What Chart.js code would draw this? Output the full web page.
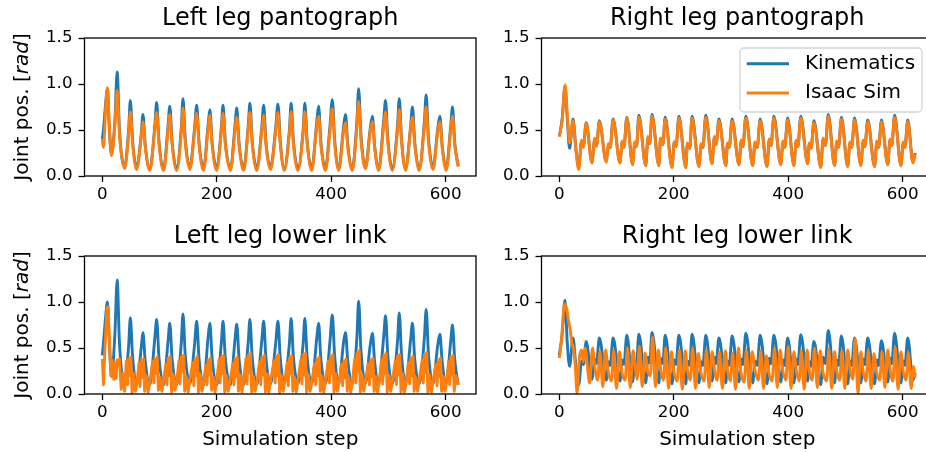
<!DOCTYPE html>
<html>
<head>
<meta charset="utf-8">
<script src="https://cdn.jsdelivr.net/npm/chart.js@4.4.1/dist/chart.umd.min.js"></script>
<style>
  html, body { margin: 0; padding: 0; background: #fff; overflow: hidden; }
  #fig { position: relative; width: 926px; height: 452px; overflow: hidden; background: #fff; }
  #fig canvas { position: absolute; }
</style>
</head>
<body>
<div id="fig">
  <canvas id="tl" width="500" height="215" style="left:0;top:0"></canvas>
  <canvas id="tr" width="500" height="215" style="left:457px;top:0"></canvas>
  <canvas id="bl" width="500" height="234" style="left:0;top:218px"></canvas>
  <canvas id="br" width="500" height="234" style="left:457px;top:218px"></canvas>
</div>
<script>
// ---- data -------------------------------------------------------------
const xTicks = [0, 200, 400, 600];
const yTicks = [0, 0.5, 1.0, 1.5];

// left leg: shared step grid for both pantograph series and the lower-link kinematics
const stepsTL = [0, 2, 6, 9, 12, 16,
  22, 26, 30, 39, 46, 49, 53, 60, 68, 71, 75, 83, 92, 95, 99, 107,
  115, 118, 122, 130, 138, 141, 145, 153, 161, 165, 169, 177, 185, 188, 192, 200,
  208, 211, 215, 224, 232, 235, 239, 247, 255, 258, 262, 270, 279, 282, 286, 294,
  303, 307, 311, 318, 327, 330, 334, 342, 351, 354, 358, 366, 375, 378, 382, 390,
  398, 402, 406, 413, 422, 425, 429, 437, 445, 448, 452, 460, 468, 472, 476, 483,
  492, 495, 499, 507, 516, 519, 523, 530, 539, 542, 546, 554, 563, 566, 570, 578,
  586, 590, 594, 601, 609, 612, 616, 622];

const kinTL = [0.40, 0.50, 0.80, 0.95, 0.55, 0.24,
  0.60, 1.13, 0.50, 0.10,  0.50, 0.82, 0.38, 0.09,  0.45, 0.67, 0.34, 0.07,
  0.56, 0.80, 0.38, 0.07,  0.55, 0.76, 0.37, 0.08,  0.52, 0.84, 0.40, 0.09,
  0.50, 0.77, 0.37, 0.08,  0.56, 0.72, 0.36, 0.08,  0.52, 0.77, 0.37, 0.08,
  0.55, 0.74, 0.36, 0.08,  0.54, 0.79, 0.38, 0.08,  0.55, 0.77, 0.37, 0.09,
  0.52, 0.78, 0.38, 0.08,  0.50, 0.79, 0.38, 0.08,  0.50, 0.79, 0.38, 0.08,
  0.60, 0.76, 0.37, 0.08,  0.55, 0.83, 0.40, 0.08,  0.55, 0.67, 0.34, 0.08,
  0.60, 0.95, 0.45, 0.10,  0.50, 0.65, 0.33, 0.08,  0.62, 0.82, 0.40, 0.08,
  0.55, 0.84, 0.40, 0.08,  0.55, 0.75, 0.37, 0.08,  0.60, 0.88, 0.42, 0.09,
  0.50, 0.65, 0.34, 0.08,  0.55, 0.75, 0.36, 0.11];

const simTL = [0.40, 0.31, 0.75, 0.96, 0.58, 0.22,
  0.55, 0.93, 0.45, 0.08,  0.45, 0.70, 0.35, 0.07,  0.42, 0.59, 0.32, 0.06,
  0.52, 0.69, 0.35, 0.06,  0.50, 0.67, 0.34, 0.06,  0.46, 0.74, 0.36, 0.07,
  0.46, 0.68, 0.34, 0.06,  0.52, 0.66, 0.33, 0.06,  0.48, 0.68, 0.34, 0.06,
  0.50, 0.64, 0.33, 0.06,  0.50, 0.69, 0.35, 0.06,  0.50, 0.66, 0.34, 0.07,
  0.48, 0.69, 0.35, 0.06,  0.46, 0.70, 0.35, 0.06,  0.46, 0.70, 0.35, 0.06,
  0.55, 0.65, 0.34, 0.06,  0.50, 0.73, 0.36, 0.06,  0.50, 0.58, 0.31, 0.06,
  0.55, 0.81, 0.40, 0.08,  0.47, 0.59, 0.30, 0.06,  0.56, 0.70, 0.36, 0.06,
  0.50, 0.72, 0.37, 0.06,  0.52, 0.64, 0.34, 0.06,  0.55, 0.75, 0.38, 0.07,
  0.47, 0.59, 0.31, 0.06,  0.50, 0.65, 0.33, 0.10];

const kinBL = [0.42, 0.55, 0.85, 1.00, 0.60, 0.19,
  0.65, 1.24, 0.55, 0.12,  0.52, 0.83, 0.40, 0.10,  0.50, 0.67, 0.36, 0.10,
  0.62, 0.81, 0.40, 0.10,  0.58, 0.77, 0.38, 0.10,  0.55, 0.87, 0.42, 0.11,
  0.52, 0.79, 0.39, 0.10,  0.62, 0.77, 0.38, 0.10,  0.55, 0.79, 0.39, 0.10,
  0.60, 0.76, 0.38, 0.10,  0.56, 0.81, 0.40, 0.10,  0.60, 0.79, 0.39, 0.11,
  0.55, 0.79, 0.39, 0.11,  0.55, 0.82, 0.40, 0.11,  0.55, 0.82, 0.40, 0.11,
  0.62, 0.77, 0.38, 0.11,  0.58, 0.86, 0.42, 0.11,  0.58, 0.67, 0.36, 0.11,
  0.62, 1.01, 0.48, 0.12,  0.52, 0.66, 0.35, 0.11,  0.64, 0.85, 0.42, 0.11,
  0.58, 0.88, 0.42, 0.11,  0.60, 0.77, 0.38, 0.11,  0.62, 0.92, 0.44, 0.11,
  0.52, 0.65, 0.35, 0.11,  0.58, 0.75, 0.37, 0.10];

// left lower link, simulated: jittery trace on its own steps
const stepsBLSim = [0, 2, 5, 8, 10, 13, 15, 17, 20,
  22, 24, 26, 28, 30, 33, 36, 39,
  42, 44, 46, 48, 50, 52, 55, 58, 61,
  64, 66, 68, 70, 72, 74, 77, 80, 83,
  88, 90, 92, 94, 96, 98, 101, 104, 107,
  111, 113, 115, 117, 119, 121, 124, 127, 130,
  134, 136, 138, 140, 142, 144, 147, 150, 153,
  158, 160, 162, 164, 166, 168, 171, 174, 177,
  181, 183, 185, 187, 189, 191, 194, 197, 200,
  204, 206, 208, 210, 212, 214, 217, 220, 223,
  228, 230, 232, 234, 236, 238, 241, 244, 247,
  251, 253, 255, 257, 259, 261, 264, 267, 270,
  275, 277, 279, 281, 283, 285, 288, 291, 294,
  300, 302, 304, 306, 308, 310, 313, 316, 319,
  323, 325, 327, 329, 331, 333, 336, 339, 342,
  347, 349, 351, 353, 355, 357, 360, 363, 366,
  371, 373, 375, 377, 379, 381, 384, 387, 390,
  395, 397, 399, 401, 403, 405, 408, 411, 414,
  418, 420, 422, 424, 426, 428, 431, 434, 437,
  441, 443, 445, 447, 449, 451, 454, 457, 460,
  465, 467, 469, 471, 473, 475, 478, 481, 484,
  488, 490, 492, 494, 496, 498, 501, 504, 507,
  512, 514, 516, 518, 520, 522, 525, 528, 531,
  535, 537, 539, 541, 543, 545, 548, 551, 554,
  559, 561, 563, 565, 567, 569, 572, 575, 578,
  583, 585, 587, 589, 591, 593, 596, 599, 602,
  605, 607, 609, 611, 613, 615, 618, 622];

const simBL = [0.38, 0.10, 0.55, 0.93, 0.95, 0.50, 0.20, 0.37, 0.16,
  0.34, 0.17, 0.37, 0.30, 0.38, 0.05, 0.22, 0.03,
  0.36, 0.10, 0.38, 0.20, 0.40, 0.01, 0.22, 0.03, 0.15,
  0.33, 0.08, 0.37, 0.18, 0.38, 0.03, 0.20, 0.02, 0.12,
  0.35, 0.12, 0.38, 0.22, 0.40, 0.04, 0.18, 0.03, 0.14,
  0.32, 0.10, 0.39, 0.20, 0.41, 0.02, 0.21, 0.04, 0.13,
  0.36, 0.11, 0.40, 0.24, 0.42, 0.03, 0.19, 0.02, 0.15,
  0.34, 0.09, 0.38, 0.20, 0.41, 0.02, 0.22, 0.03, 0.12,
  0.31, 0.10, 0.37, 0.21, 0.39, 0.04, 0.18, 0.02, 0.14,
  0.37, 0.12, 0.40, 0.22, 0.42, 0.02, 0.20, 0.03, 0.13,
  0.33, 0.10, 0.38, 0.19, 0.40, 0.03, 0.21, 0.02, 0.15,
  0.38, 0.11, 0.42, 0.23, 0.44, 0.02, 0.19, 0.03, 0.12,
  0.35, 0.10, 0.40, 0.21, 0.42, 0.02, 0.22, 0.02, 0.14,
  0.36, 0.12, 0.41, 0.20, 0.43, 0.01, 0.20, 0.03, 0.13,
  0.34, 0.09, 0.39, 0.22, 0.42, 0.03, 0.18, 0.02, 0.15,
  0.37, 0.11, 0.43, 0.21, 0.44, 0.02, 0.21, 0.03, 0.12,
  0.33, 0.10, 0.38, 0.20, 0.40, 0.03, 0.19, 0.02, 0.14,
  0.36, 0.12, 0.41, 0.22, 0.43, 0.02, 0.22, 0.03, 0.13,
  0.32, 0.09, 0.36, 0.18, 0.38, 0.03, 0.18, 0.02, 0.12,
  0.38, 0.12, 0.44, 0.24, 0.47, 0.02, 0.21, 0.03, 0.15,
  0.33, 0.10, 0.37, 0.19, 0.39, 0.03, 0.19, 0.02, 0.13,
  0.37, 0.11, 0.42, 0.22, 0.45, 0.02, 0.20, 0.03, 0.14,
  0.36, 0.10, 0.41, 0.21, 0.43, 0.02, 0.22, 0.02, 0.12,
  0.34, 0.11, 0.39, 0.20, 0.41, 0.03, 0.18, 0.03, 0.15,
  0.37, 0.12, 0.43, 0.23, 0.45, 0.02, 0.21, 0.02, 0.13,
  0.32, 0.09, 0.37, 0.19, 0.39, 0.03, 0.19, 0.03, 0.14,
  0.35, 0.10, 0.40, 0.21, 0.42, 0.03, 0.20, 0.10];

// right leg: shared step grid (trough, bump, dip, peak per stride)
const stepsTR = [0, 5, 10, 14, 18, 24, 29, 34, 39, 42, 47,
  57, 62, 65, 70, 82, 86, 89, 94, 106, 110, 113, 118, 128, 132, 135, 139,
  151, 155, 158, 162, 174, 177, 181, 185, 197, 201, 204, 209, 221, 224, 228, 232,
  244, 248, 251, 256, 267, 271, 274, 279, 291, 294, 297, 302, 314, 318, 321, 326,
  338, 342, 346, 351, 363, 367, 370, 375, 387, 391, 394, 399, 410, 414, 417, 422,
  434, 437, 440, 445, 457, 461, 465, 470, 481, 485, 488, 493, 504, 508, 511, 516,
  527, 531, 534, 539, 551, 555, 558, 563, 574, 578, 581, 586, 597, 601, 604, 609,
  618, 622];

const kinTR = [0.43, 0.62, 0.97, 0.62, 0.30, 0.62, 0.30, 0.10, 0.38, 0.32, 0.58,
  0.15, 0.40, 0.33, 0.60,  0.16, 0.34, 0.31, 0.62,  0.15, 0.37, 0.31, 0.64,
  0.13, 0.36, 0.32, 0.66,  0.12, 0.42, 0.35, 0.67,  0.12, 0.41, 0.34, 0.64,
  0.10, 0.37, 0.32, 0.65,  0.10, 0.35, 0.30, 0.65,  0.11, 0.34, 0.31, 0.66,
  0.14, 0.42, 0.34, 0.62,  0.12, 0.35, 0.31, 0.62,  0.13, 0.38, 0.32, 0.65,
  0.12, 0.36, 0.31, 0.62,  0.11, 0.40, 0.33, 0.65,  0.13, 0.37, 0.31, 0.63,
  0.12, 0.38, 0.32, 0.65,  0.14, 0.35, 0.30, 0.60,  0.10, 0.40, 0.33, 0.67,
  0.12, 0.37, 0.31, 0.64,  0.11, 0.36, 0.31, 0.63,  0.12, 0.38, 0.32, 0.61,
  0.11, 0.37, 0.31, 0.61,  0.13, 0.39, 0.33, 0.66,  0.12, 0.36, 0.31, 0.61,
  0.15, 0.25];

const simTR = [0.43, 0.60, 0.99, 0.66, 0.36, 0.60, 0.28, 0.07, 0.39, 0.31, 0.57,
  0.14, 0.41, 0.32, 0.59,  0.15, 0.35, 0.31, 0.61,  0.14, 0.38, 0.31, 0.63,
  0.12, 0.37, 0.32, 0.64,  0.11, 0.43, 0.35, 0.65,  0.11, 0.41, 0.34, 0.62,
  0.09, 0.37, 0.32, 0.63,  0.09, 0.36, 0.30, 0.63,  0.10, 0.35, 0.31, 0.64,
  0.13, 0.43, 0.34, 0.60,  0.11, 0.36, 0.31, 0.60,  0.12, 0.39, 0.32, 0.63,
  0.11, 0.37, 0.31, 0.60,  0.10, 0.40, 0.33, 0.63,  0.12, 0.38, 0.31, 0.61,
  0.11, 0.39, 0.32, 0.63,  0.13, 0.36, 0.30, 0.58,  0.09, 0.41, 0.33, 0.65,
  0.11, 0.38, 0.31, 0.62,  0.10, 0.37, 0.31, 0.61,  0.11, 0.39, 0.32, 0.59,
  0.10, 0.38, 0.31, 0.59,  0.12, 0.40, 0.33, 0.64,  0.11, 0.37, 0.31, 0.59,
  0.14, 0.24];

const kinBR = [0.42, 0.65, 1.02, 0.55, 0.30, 0.61, 0.30, 0.10, 0.36, 0.32, 0.57,
  0.16, 0.38, 0.33, 0.61,  0.15, 0.35, 0.31, 0.61,  0.14, 0.37, 0.32, 0.64,
  0.13, 0.36, 0.32, 0.65,  0.12, 0.40, 0.34, 0.67,  0.12, 0.39, 0.33, 0.64,
  0.11, 0.37, 0.32, 0.64,  0.11, 0.36, 0.31, 0.65,  0.12, 0.35, 0.31, 0.64,
  0.14, 0.40, 0.33, 0.61,  0.12, 0.36, 0.31, 0.63,  0.13, 0.38, 0.32, 0.66,
  0.12, 0.36, 0.31, 0.64,  0.11, 0.39, 0.33, 0.64,  0.13, 0.37, 0.31, 0.61,
  0.12, 0.38, 0.32, 0.645, 0.14, 0.35, 0.30, 0.57,  0.10, 0.40, 0.33, 0.69,
  0.12, 0.37, 0.31, 0.63,  0.11, 0.36, 0.31, 0.61,  0.12, 0.38, 0.32, 0.61,
  0.11, 0.37, 0.31, 0.58,  0.13, 0.39, 0.33, 0.66,  0.12, 0.36, 0.31, 0.61,
  0.15, 0.23];

// right lower link, simulated
const stepsBRSim = [0, 4, 8, 10, 13, 16, 19, 22, 25, 28, 31, 35, 39, 42, 45, 49, 53, 58, 62,
  67, 71, 76, 81, 85,  91, 95, 100, 105, 109,  115, 119, 124, 129, 133,
  136, 140, 145, 150, 154,  159, 163, 168, 173, 177,  182, 186, 191, 196, 200,
  206, 210, 215, 220, 224,  229, 233, 238, 243, 247,  253, 257, 262, 267, 271,
  276, 280, 285, 290, 294,  299, 303, 308, 313, 317,  323, 327, 332, 337, 342,
  348, 352, 357, 362, 366,  372, 376, 381, 386, 390,  396, 400, 405, 410, 414,
  419, 423, 428, 433, 437,  442, 446, 451, 456, 460,  467, 471, 476, 481, 485,
  490, 494, 499, 504, 508,  513, 517, 522, 527, 531,  536, 540, 545, 550, 554,
  560, 564, 569, 574, 578,  583, 587, 592, 597, 601,  606, 610, 615, 619, 622];

const simBR = [0.39, 0.60, 0.94, 0.98, 0.92, 0.80, 0.70, 0.55, 0.49, 0.30, 0.01, 0.39, 0.48, 0.35, 0.50, 0.30, 0.12, 0.50, 0.30,
  0.15, 0.46, 0.08, 0.48, 0.26,  0.14, 0.47, 0.06, 0.46, 0.25,  0.15, 0.50, 0.07, 0.47, 0.28,
  0.16, 0.52, 0.08, 0.45, 0.26,  0.20, 0.62, 0.08, 0.48, 0.27,  0.15, 0.50, 0.06, 0.46, 0.25,
  0.14, 0.48, 0.05, 0.47, 0.26,  0.15, 0.50, 0.06, 0.44, 0.25,  0.14, 0.48, 0.07, 0.46, 0.27,
  0.15, 0.46, 0.06, 0.47, 0.26,  0.14, 0.45, 0.05, 0.50, 0.25,  0.13, 0.48, 0.06, 0.46, 0.26,
  0.15, 0.47, 0.06, 0.42, 0.24,  0.14, 0.50, 0.07, 0.48, 0.28,  0.15, 0.52, 0.06, 0.46, 0.26,
  0.14, 0.47, 0.05, 0.48, 0.25,  0.15, 0.50, 0.07, 0.47, 0.26,  0.14, 0.49, 0.06, 0.46, 0.25,
  0.15, 0.47, 0.06, 0.48, 0.27,  0.16, 0.60, 0.01, 0.46, 0.25,  0.14, 0.47, 0.06, 0.44, 0.26,
  0.15, 0.46, 0.07, 0.48, 0.27,  0.14, 0.51, 0.05, 0.46, 0.25,  0.15, 0.45, 0.06, 0.30, 0.18];

// ---- styling ----------------------------------------------------------
const FONT = 'DejaVu Sans';
const BLUE = '#1f77b4';
const ORANGE = '#ff7f0e';
const X_MIN = -31.1, X_MAX = 653.1;
const AREA_BOTTOM = 176;   // chart area bottom inside each canvas
const Y_AXIS_W = 84.5;
const LINE_W = 2.9;

function series(steps, vals) {
  return steps.map((s, i) => ({ x: s, y: vals[i] }));
}

// full box around the plot area, drawn over the lines
const framePlugin = {
  id: 'frame',
  afterDatasetsDraw(chart) {
    const { ctx, chartArea: a } = chart;
    ctx.save();
    ctx.strokeStyle = '#000';
    ctx.lineWidth = 1.3;
    ctx.strokeRect(a.left, a.top, a.right - a.left, a.bottom - a.top);
    ctx.restore();
  }
};

// y label with the italic unit
const yLabelPlugin = {
  id: 'ylabel',
  afterDraw(chart, args, opts) {
    if (!opts.show) return;
    const { ctx, chartArea: a } = chart;
    const parts = [['Joint pos. [', 'normal'], ['rad', 'italic'], [']', 'normal']];
    ctx.save();
    ctx.fillStyle = '#000';
    ctx.textBaseline = 'middle';
    let total = 0;
    const widths = parts.map(p => {
      ctx.font = p[1] + ' 20px "' + FONT + '"';
      const w = ctx.measureText(p[0]).width;
      total += w;
      return w;
    });
    ctx.translate(opts.x, (a.top + a.bottom) / 2);
    ctx.rotate(-Math.PI / 2);
    let x = -total / 2;
    parts.forEach((p, i) => {
      ctx.font = p[1] + ' 20px "' + FONT + '"';
      ctx.fillText(p[0], x, 0);
      x += widths[i];
    });
    ctx.restore();
  }
};

// boxed legend in the upper right corner
const boxLegend = {
  id: 'boxLegend',
  afterDraw(chart, args, opts) {
    if (!opts.show) return;
    const { ctx, chartArea: a } = chart;
    const w = 182, h = 64;
    const x0 = a.right - 11 - w, y0 = a.top + 10;
    ctx.save();
    ctx.beginPath();
    ctx.roundRect(x0, y0, w, h, 4);
    ctx.fillStyle = 'rgba(255,255,255,0.8)';
    ctx.fill();
    ctx.strokeStyle = '#d3d3d3';
    ctx.lineWidth = 1.3;
    ctx.stroke();
    chart.data.datasets.forEach((ds, i) => {
      const y = y0 + 15.7 + i * 29.3;
      ctx.strokeStyle = ds.borderColor;
      ctx.lineWidth = LINE_W;
      ctx.beginPath();
      ctx.moveTo(x0 + 6.7, y);
      ctx.lineTo(x0 + 49, y);
      ctx.stroke();
      ctx.fillStyle = '#000';
      ctx.font = '20px "' + FONT + '"';
      ctx.textBaseline = 'middle';
      ctx.fillText(ds.label, x0 + 65, y);
    });
    ctx.restore();
  }
};

const tickFont = { family: FONT, size: 16.7 };
const tickGrid = { drawOnChartArea: false, drawTicks: true, tickLength: 6, tickWidth: 1.3, tickColor: '#000', color: '#000' };

function makePanel(id, title, kin, sim, opts) {
  const canvas = document.getElementById(id);
  const H = canvas.height;
  return new Chart(canvas, {
    type: 'line',
    data: {
      datasets: [
        { label: 'Kinematics', data: kin, borderColor: BLUE, order: 2, cubicInterpolationMode: 'monotone' },
        Object.assign({ label: 'Isaac Sim', data: sim, borderColor: ORANGE, order: 1 }, opts.simStyle)
      ]
    },
    options: {
      responsive: false,
      animation: false,
      devicePixelRatio: 1,
      layout: { padding: { left: 0, right: 24, top: 0, bottom: 0 } },
      elements: {
        point: { radius: 0 },
        line: { borderWidth: LINE_W, borderJoinStyle: 'round', fill: false }
      },
      scales: {
        x: {
          type: 'linear', min: X_MIN, max: X_MAX,
          afterBuildTicks: s => { s.ticks = xTicks.map(v => ({ value: v })); },
          afterFit: s => { s.height = H - AREA_BOTTOM; },
          ticks: { callback: v => String(v), font: tickFont, color: '#000', padding: 3, maxRotation: 0, autoSkip: false },
          grid: tickGrid,
          border: { display: false },
          title: {
            display: !!opts.xTitle, text: 'Simulation step',
            font: { family: FONT, size: 20 }, color: '#000', padding: { top: 0, bottom: 0 }
          }
        },
        y: {
          type: 'linear', min: 0, max: 1.5,
          afterBuildTicks: s => { s.ticks = yTicks.map(v => ({ value: v })); },
          afterFit: s => { s.width = Y_AXIS_W; },
          ticks: { callback: v => v.toFixed(1), font: tickFont, color: '#000', padding: 6 },
          grid: tickGrid,
          border: { display: false }
        }
      },
      plugins: {
        legend: { display: false },
        tooltip: { enabled: false },
        title: {
          display: true, text: title, fullSize: false,
          font: { family: FONT, size: 24, weight: 'normal' }, color: '#000',
          padding: { top: 4, bottom: 5.2 }
        },
        ylabel: { show: !!opts.yLabel, x: 23 },
        boxLegend: { show: !!opts.legend }
      }
    },
    plugins: [framePlugin, yLabelPlugin, boxLegend]
  });
}

const smooth = { cubicInterpolationMode: 'monotone' };

makePanel('tl', 'Left leg pantograph', series(stepsTL, kinTL), series(stepsTL, simTL),
  { yLabel: true, simStyle: smooth });
makePanel('tr', 'Right leg pantograph', series(stepsTR, kinTR), series(stepsTR, simTR),
  { legend: true, simStyle: smooth });
makePanel('bl', 'Left leg lower link', series(stepsTL, kinBL), series(stepsBLSim, simBL),
  { yLabel: true, xTitle: true, simStyle: { tension: 0 } });
makePanel('br', 'Right leg lower link', series(stepsTR, kinBR), series(stepsBRSim, simBR),
  { xTitle: true, simStyle: smooth });
</script>
</body>
</html>
